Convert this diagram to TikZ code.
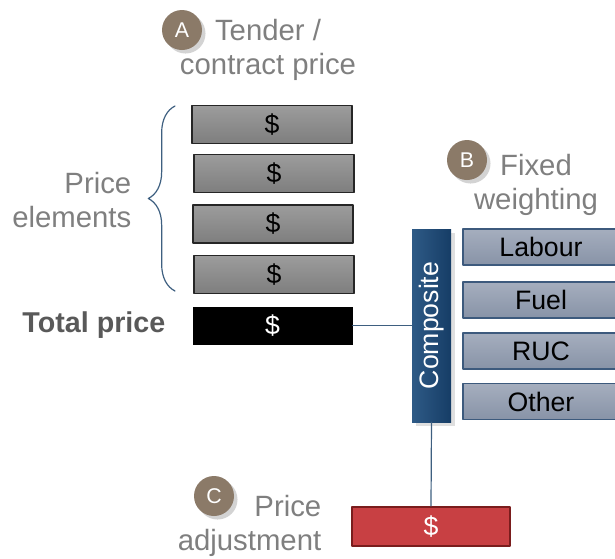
\documentclass[tikz,border=0pt]{standalone}
\usepackage{fontspec}
\setmainfont{Liberation Sans}
\usetikzlibrary{shadows,decorations.pathreplacing}
\definecolor{lblgray}{HTML}{7F7F7F}
\definecolor{dkgray}{HTML}{595959}
\definecolor{boxtop}{HTML}{9C9C9C}
\definecolor{boxbot}{HTML}{7E7E7E}
\definecolor{wtop}{HTML}{A5AEBE}
\definecolor{wbot}{HTML}{8893A7}
\definecolor{wedge}{HTML}{3D5A7D}
\definecolor{navyL}{HTML}{2E5A86}
\definecolor{navyR}{HTML}{163D66}
\definecolor{redfill}{HTML}{C84043}
\definecolor{rededge}{HTML}{7A1D1D}
\definecolor{badgebrown}{HTML}{8B7A68}
\definecolor{linkblue}{HTML}{3E5F80}

\begin{document}
\begin{tikzpicture}[x=0.75pt,y=-0.75pt, line join=round, line cap=round,
	box/.style={minimum width=120pt, minimum height=28.5pt, inner sep=0pt, font=\fontsize{20}{24}\selectfont},
	elem/.style={box, draw=black!85, line width=1pt, top color=boxtop, bottom color=boxbot},
	total/.style={box, fill=black, text=white},
	wbox/.style={minimum width=117pt, minimum height=27pt, inner sep=0pt, draw=wedge, line width=0.9pt, top color=wtop, bottom color=wbot, font=\fontsize{20}{24}\selectfont},
	comp/.style={rotate=90, minimum width=144.75pt, minimum height=29.25pt, inner sep=0pt, left color=navyL, right color=navyR, text=white, font=\fontsize{20}{24}\selectfont, drop shadow={opacity=0.25}},
	adjbox/.style={box, minimum width=118.5pt, minimum height=29.25pt, draw=rededge, line width=1.5pt, fill=redfill, text=white},
	badge/.style={circle, fill=badgebrown, minimum size=30pt, inner sep=0pt, text=white, font=\fontsize{16}{16}\selectfont, drop shadow={opacity=0.35}},
	lbl/.style={text=lblgray, align=center, font=\fontsize{22}{26}\selectfont},
	link/.style={draw=linkblue, line width=0.9pt}]
	\def\W{615} \def\H{558}
	\useasboundingbox (0,0) rectangle (\W,\H);
	% tender / contract price
	\node[badge] (ba) at (182,30) {A};
	\node[lbl] (tender) at (268,50) {Tender /\\contract price};
	\foreach \i/\x/\y in {1/272/124.5, 2/274/173.5, 3/273/224, 4/274/274.5}
	{\node[elem] (e\i) at (\x,\y) {\$};}
	\node[total] (total) at (272.5,325.5) {\$};
	\draw[link, decorate, decoration={brace, amplitude=20pt}] (175,291) -- (175,106);
	\node[lbl, align=right, anchor=east] (pelem) at (136,200) {Price\\elements};
	\node[anchor=east, text=dkgray, font=\fontsize{21.5}{26}\selectfont\bfseries] (tot) at (170,325) {Total price};
	% fixed weighting
	\node[badge] (bb) at (467,160) {B};
	\node[lbl] (fixed) at (536,185) {Fixed\\weighting};
	\node[comp] (comp) at (431.5,325.5) {Composite};
	\foreach \i/\t/\y in {1/Labour/247, 2/Fuel/300, 3/RUC/351, 4/Other/401.5}
	{\node[wbox] (w\i) at (541,\y) {\t};}
	% price adjustment
	\node[badge] (bc) at (214,496) {C};
	\node[lbl, align=right, anchor=east] (padj) at (326,526) {Price\\adjustment};
	\node[adjbox] (adj) at (431,526.5) {\$};
	\draw[link] (total.east) -- (comp.north);
	\draw[link] (comp.west) -- (adj.north);
\end{tikzpicture}
\end{document}
